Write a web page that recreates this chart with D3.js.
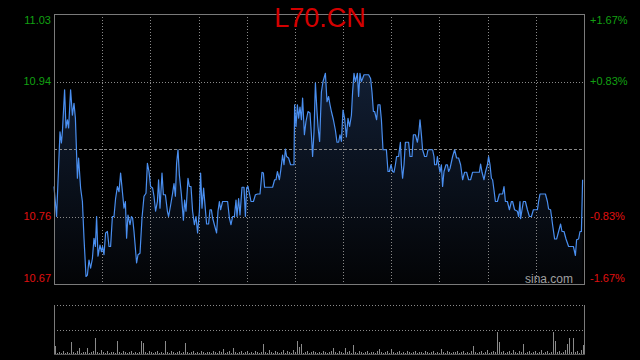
<!DOCTYPE html>
<html>
<head>
<meta charset="utf-8">
<script src="https://cdn.jsdelivr.net/npm/d3@7"></script>
<style>
  html, body { margin: 0; padding: 0; background: #000; }
  svg { display: block; font-family: Arial, "Liberation Sans", sans-serif; }
</style>
</head>
<body>
<div id="chart"></div>
<script>
// chart values
const symbol = "L70.CN";
const prevClose = 10.85;
const priceTicks = [11.03, 10.94, 10.85, 10.76, 10.67];
const pctTicks = ["+1.67%", "+0.83%", "", "-0.83%", "-1.67%"];

// minute index within the session and price
const minutes = [0, 1.3, 3, 3.7, 4.2, 5.3, 6, 6.7, 7.3, 8.3, 9.2, 10, 10.7, 11.7, 12.3, 13.3, 14.2, 15, 16, 16.7,
  17.5, 18.3, 19.2, 20, 20.7, 21.3, 22, 23, 23.7, 24.3, 25, 25.8, 26.7, 27.5, 28.3, 29.2, 30, 30.8, 31.7, 32.5,
  33.3, 34.2, 35, 35.7, 36.3, 37, 38, 38.7, 39.3, 40, 41.3, 42, 43, 44, 45, 46, 46.7, 47.5, 48.3, 49.3,
  50, 50.8, 51.7, 52.3, 53, 54, 54.7, 55.7, 56.7, 57.3, 58.3, 59.3, 60, 60.7, 61.3, 62, 62.7, 63.7, 64.7, 65.3,
  66, 67, 67.7, 68.5, 69.3, 70.2, 71, 71.8, 72.7, 73.3, 74, 74.8, 75.7, 76.3, 77.3, 78, 78.7, 79.3, 80.2, 81.3,
  82, 82.7, 83.3, 84.3, 85.7, 86.8, 87.7, 88.5, 89.3, 90.2, 91, 91.5, 92.3, 93, 94, 95, 95.7, 96.3, 97, 97.7,
  98.5, 99.7, 100.7, 101.8, 103, 104, 104.7, 105.3, 106.8, 109.3, 110.3, 111, 111.7, 112.7, 113.3, 114.3, 115, 115.7, 116.3, 117.3,
  118.3, 120, 120.3, 121, 121.7, 122.3, 123, 123.7, 124.3, 125.2, 126, 127, 128, 128.7, 129.3, 130, 130.7, 131.5,
  132, 132.8, 133.7, 134.5, 135.7, 136.5, 137.3, 138, 138.7, 139.7, 140.7, 141.5, 142.3, 143, 143.7, 144.5, 145.3, 146.2, 147, 147.8,
  148.7, 149.3, 150, 150.7, 151.7, 152.3, 153, 153.7, 154.3, 155, 157.3, 158.3, 159, 159.7, 160.3, 161.3, 162, 163, 163.7, 164.5,
  166.2, 167, 167.7, 168.5, 169.3, 170, 170.7, 171.3, 172.3, 173.2, 173.7, 174.3, 175, 175.7, 177.3, 178, 179, 179.7, 180.7, 181.7,
  182.3, 183, 183.7, 184.3, 185.3, 186.3, 187, 189.3, 190, 190.3, 191.2, 191.7, 192.3, 193, 193.7, 194.3, 195, 196, 196.7, 197.3,
  198, 199.3, 200.3, 201.3, 202.3, 203.3, 204.3, 205.3, 206.3, 207.3, 208.3, 209.3, 212.7, 213.3, 214, 215, 215.7, 216.7, 217.3, 218,
  218.7, 219.3, 220, 220.7, 221.7, 222.7, 224.3, 225, 225.7, 226.7, 227.7, 228.7, 229.3, 230.3, 231.7, 232.3, 233, 233.3, 234, 234.7,
  235.7, 236.7, 237.7, 238.7, 239.7, 241.7, 242.3, 243, 245.7, 246.7, 247.3, 248.3, 249.3, 250.3, 251.3, 252.3, 253.3, 254, 255, 256,
  257.3, 259.7, 260.7, 261.3, 262.3, 263, 263.7, 264.3];

const prices = [10.800, 10.760, 10.873, 10.858, 10.873, 10.929, 10.878, 10.889, 10.878, 10.929, 10.895, 10.911, 10.891, 10.811, 10.838, 10.798, 10.780, 10.731, 10.680, 10.682,
  10.702, 10.691, 10.704, 10.731, 10.720, 10.760, 10.707, 10.722, 10.713, 10.720, 10.709, 10.738, 10.740, 10.720, 10.720, 10.760, 10.760, 10.784, 10.800, 10.793,
  10.818, 10.793, 10.771, 10.780, 10.731, 10.762, 10.749, 10.760, 10.758, 10.740, 10.698, 10.709, 10.711, 10.758, 10.787, 10.791, 10.831, 10.820, 10.800, 10.798,
  10.787, 10.767, 10.780, 10.809, 10.771, 10.818, 10.789, 10.789, 10.767, 10.760, 10.775, 10.791, 10.804, 10.787, 10.831, 10.849, 10.815, 10.789, 10.755, 10.782,
  10.767, 10.811, 10.800, 10.800, 10.767, 10.749, 10.760, 10.738, 10.767, 10.818, 10.771, 10.798, 10.769, 10.750, 10.750, 10.769, 10.769, 10.758, 10.749, 10.738,
  10.767, 10.780, 10.769, 10.780, 10.780, 10.780, 10.758, 10.749, 10.760, 10.760, 10.782, 10.760, 10.784, 10.762, 10.799, 10.799, 10.760, 10.798, 10.800, 10.791,
  10.780, 10.780, 10.789, 10.790, 10.790, 10.819, 10.818, 10.799, 10.799, 10.799, 10.809, 10.809, 10.820, 10.809, 10.820, 10.842, 10.829, 10.850, 10.840, 10.838,
  10.829, 10.829, 10.909, 10.880, 10.909, 10.891, 10.906, 10.889, 10.918, 10.869, 10.887, 10.900, 10.898, 10.869, 10.840, 10.873, 10.938, 10.900,
  10.880, 10.860, 10.926, 10.940, 10.951, 10.913, 10.920, 10.909, 10.900, 10.889, 10.875, 10.859, 10.859, 10.869, 10.860, 10.902, 10.891, 10.866, 10.891, 10.880,
  10.895, 10.926, 10.951, 10.940, 10.951, 10.920, 10.951, 10.940, 10.944, 10.949, 10.949, 10.944, 10.926, 10.900, 10.900, 10.889, 10.909, 10.909, 10.889, 10.849,
  10.849, 10.820, 10.820, 10.829, 10.820, 10.819, 10.829, 10.840, 10.840, 10.859, 10.829, 10.811, 10.829, 10.859, 10.859, 10.840, 10.840, 10.869, 10.869, 10.859,
  10.869, 10.889, 10.869, 10.849, 10.840, 10.840, 10.849, 10.849, 10.840, 10.829, 10.829, 10.840, 10.829, 10.819, 10.829, 10.800, 10.820, 10.829, 10.829, 10.820,
  10.824, 10.840, 10.849, 10.838, 10.838, 10.829, 10.809, 10.819, 10.819, 10.809, 10.809, 10.819, 10.819, 10.830, 10.819, 10.809, 10.819, 10.829, 10.840, 10.829,
  10.811, 10.809, 10.795, 10.780, 10.780, 10.790, 10.790, 10.800, 10.780, 10.780, 10.769, 10.780, 10.780, 10.769, 10.767, 10.760, 10.780, 10.757, 10.769, 10.780,
  10.780, 10.769, 10.760, 10.760, 10.769, 10.769, 10.780, 10.790, 10.790, 10.780, 10.770, 10.769, 10.749, 10.730, 10.730, 10.740, 10.750, 10.740, 10.740, 10.730,
  10.720, 10.720, 10.708, 10.729, 10.730, 10.740, 10.740, 10.809];

// volume per minute
const volumes = [8,1,2,1,3,1,2,1,12,2,1,3,6,1,2,2,6,1,2,3,
  16,2,1,4,2,1,3,1,2,2,1,13,2,1,3,2,1,2,3,1,
  2,1,2,13,11,2,1,3,2,1,2,3,1,2,1,13,2,1,3,2,
  1,2,3,1,2,11,2,1,2,3,1,2,1,3,2,1,2,2,1,3,
  2,1,3,2,5,1,2,3,1,6,2,1,2,3,1,2,3,1,2,1,
  3,2,1,2,10,2,1,4,2,1,3,2,1,2,4,1,3,2,1,4,
  2,13,7,10,1,2,3,1,2,3,2,1,2,1,3,2,1,2,3,6,
  2,1,3,2,1,6,2,3,1,9,2,1,3,2,1,2,3,1,2,2,
  1,3,5,2,1,2,3,1,5,2,1,2,3,1,2,1,3,2,1,2,
  3,1,2,2,1,3,2,1,2,3,1,2,1,5,2,1,3,2,1,2,
  2,3,1,2,3,1,2,1,3,8,2,1,2,3,1,2,4,1,2,3,
  2,22,12,2,3,1,2,3,1,4,2,1,3,2,10,1,2,3,1,2,
  3,1,2,4,1,2,3,1,2,22,13,2,3,1,2,4,10,16,2,16,
  2,3,1,4,9];

const sessionLength = 265;

const width = 640, height = 360;
const plot = {left: 54, right: 584, top: 14, bottom: 284};
const vol = {top: 305, bottom: 354};
const green = "#12a012", red = "#e01010", grid = "#8a8a8a", frame = "#7a7a7a";

const svg = d3.select("#chart").append("svg")
    .attr("width", width).attr("height", height)
    .attr("viewBox", [0, 0, width, height]);

svg.append("rect").attr("width", width).attr("height", height).attr("fill", "#000");

const xScale = d3.scaleLinear().domain([0, sessionLength]).range([plot.left, plot.right]);
const yScale = d3.scaleLinear()
    .domain([priceTicks[priceTicks.length - 1], priceTicks[0]])
    .range([plot.bottom, plot.top]);
const vScale = d3.scaleLinear().domain([0, 49]).range([vol.bottom, vol.top]);

const series = minutes.map((m, i) => ({m: m, p: prices[i]}));

// area gradient
const defs = svg.append("defs");
const grad = defs.append("linearGradient")
    .attr("id", "fillGrad")
    .attr("gradientUnits", "userSpaceOnUse")
    .attr("x1", 0).attr("x2", 0)
    .attr("y1", plot.top).attr("y2", plot.bottom);
grad.append("stop").attr("offset", "0%").attr("stop-color", "#15253f");
grad.append("stop").attr("offset", "100%").attr("stop-color", "#030406");

svg.append("path")
    .datum(series)
    .attr("fill", "url(#fillGrad)")
    .attr("d", d3.area().x(d => xScale(d.m)).y0(plot.bottom).y1(d => yScale(d.p)));

// vertical grid lines, 11 columns
const cols = d3.range(1, 11).map(i => i * sessionLength / 11);
svg.append("g").selectAll("line").data(cols).enter().append("line")
    .attr("x1", d => Math.round(xScale(d)) + 0.5).attr("x2", d => Math.round(xScale(d)) + 0.5)
    .attr("y1", plot.top).attr("y2", plot.bottom)
    .attr("stroke", grid).attr("stroke-dasharray", "1,2");

// horizontal grid lines
svg.append("g").selectAll("line").data(priceTicks.slice(1, -1)).enter().append("line")
    .attr("x1", plot.left).attr("x2", plot.right)
    .attr("y1", d => Math.round(yScale(d)) + 0.5).attr("y2", d => Math.round(yScale(d)) + 0.5)
    .attr("stroke", grid)
    .attr("stroke-dasharray", d => d === prevClose ? "3,2" : "1,2");

// price line
svg.append("path")
    .datum(series)
    .attr("fill", "none")
    .attr("stroke", "#4a8ff0")
    .attr("stroke-width", 1.2)
    .attr("stroke-linejoin", "round")
    .attr("d", d3.line().x(d => xScale(d.m)).y(d => yScale(d.p)));

// frame
svg.append("rect")
    .attr("x", plot.left + 0.5).attr("y", plot.top + 0.5)
    .attr("width", plot.right - plot.left).attr("height", plot.bottom - plot.top)
    .attr("fill", "none").attr("stroke", frame);

// axis labels
const labelY = (d, i) => {
  const y = yScale(d);
  if (i === 0) return y + 6;
  if (i === priceTicks.length - 1) return y - 6;
  return y;
};
const labelColor = d => d > prevClose ? green : red;

svg.append("g").selectAll("text").data(priceTicks).enter()
    .filter(d => d !== prevClose)
    .append("text")
    .attr("x", 51).attr("y", (d) => labelY(d, priceTicks.indexOf(d)))
    .attr("dy", "0.35em")
    .attr("text-anchor", "end")
    .attr("fill", labelColor)
    .style("font-size", "11px")
    .text(d => d.toFixed(2));

svg.append("g").selectAll("text").data(priceTicks).enter()
    .filter(d => d !== prevClose)
    .append("text")
    .attr("x", 590).attr("y", (d) => labelY(d, priceTicks.indexOf(d)))
    .attr("dy", "0.35em")
    .attr("fill", labelColor)
    .style("font-size", "11px")
    .text(d => pctTicks[priceTicks.indexOf(d)]);

// title
svg.append("text")
    .attr("x", width / 2).attr("y", 27)
    .attr("text-anchor", "middle")
    .attr("fill", "#d40000")
    .style("font-size", "27px")
    .text(symbol);

// watermark
svg.append("text")
    .attr("x", 573).attr("y", 283)
    .attr("text-anchor", "end")
    .attr("fill", "#a0a0a0")
    .style("font-size", "12px")
    .text("sina.com");

// volume panel
svg.append("g").selectAll("rect").data(volumes).enter().append("rect")
    .attr("x", (d, i) => Math.round(xScale(i + 0.5)))
    .attr("width", 1)
    .attr("y", d => vScale(d))
    .attr("height", d => vol.bottom - vScale(d))
    .attr("fill", "#8a8a8a");

[vol.top, (vol.top + vol.bottom) / 2 + 0.5].forEach(y => {
  svg.append("line")
      .attr("x1", plot.left).attr("x2", plot.right)
      .attr("y1", Math.round(y) + 0.5).attr("y2", Math.round(y) + 0.5)
      .attr("stroke", grid).attr("stroke-dasharray", "1,2");
});
svg.append("line")
    .attr("x1", plot.left + 0.5).attr("x2", plot.left + 0.5)
    .attr("y1", vol.top).attr("y2", vol.bottom + 1)
    .attr("stroke", frame);
svg.append("line")
    .attr("x1", plot.right + 0.5).attr("x2", plot.right + 0.5)
    .attr("y1", vol.top).attr("y2", vol.bottom + 1)
    .attr("stroke", frame);
svg.append("line")
    .attr("x1", plot.left).attr("x2", plot.right + 1)
    .attr("y1", vol.bottom + 0.5).attr("y2", vol.bottom + 0.5)
    .attr("stroke", "#555");
</script>
</body>
</html>
